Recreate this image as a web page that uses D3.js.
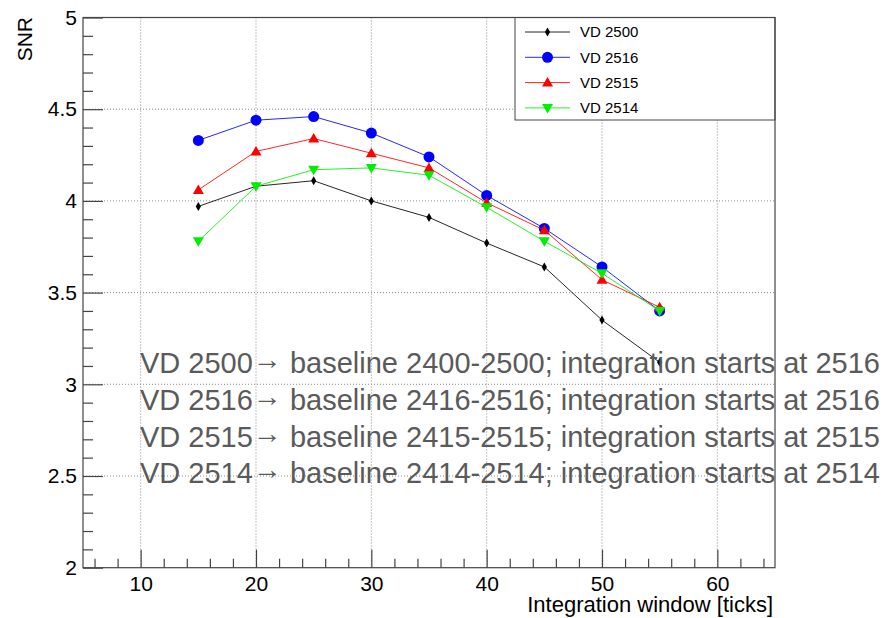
<!DOCTYPE html>
<html>
<head>
<meta charset="utf-8">
<script src="https://cdn.jsdelivr.net/npm/d3@7"></script>
<style>
  html, body { margin: 0; padding: 0; background: #fff; }
  svg { display: block; font-family: "Liberation Sans", Arial, Helvetica, sans-serif; }
</style>
</head>
<body>
<svg id="chart" width="889" height="618"></svg>
<script>
// Integration window lengths (ticks)
const windows = [15, 20, 25, 30, 35, 40, 45, 50, 55];

// SNR per configuration
const vd2500 = [3.97, 4.08, 4.11, 4.00, 3.91, 3.77, 3.64, 3.35, 3.12];
const vd2516 = [4.33, 4.44, 4.46, 4.37, 4.24, 4.03, 3.85, 3.64, 3.40];
const vd2515 = [4.06, 4.27, 4.34, 4.26, 4.18, 3.99, 3.84, 3.57, 3.42];
const vd2514 = [3.78, 4.08, 4.17, 4.18, 4.14, 3.965, 3.78, 3.605, 3.40];

const seriesNames = ["VD 2500", "VD 2516", "VD 2515", "VD 2514"];

// Axis ticks
const xMajor = [10, 20, 30, 40, 50, 60];
const xMinor = [6, 8, 12, 14, 16, 18, 22, 24, 26, 28, 32, 34, 36, 38, 42, 44, 46, 48, 52, 54, 56, 58, 62, 64];
const yMajor = [2, 2.5, 3, 3.5, 4, 4.5, 5];
const yMinor = [2.1, 2.2, 2.3, 2.4, 2.6, 2.7, 2.8, 2.9, 3.1, 3.2, 3.3, 3.4, 3.6, 3.7, 3.8, 3.9, 4.1, 4.2, 4.3, 4.4, 4.6, 4.7, 4.8, 4.9];

// Annotation lines: configuration, arrow, description
const noteHeads = ["VD 2500", "VD 2516", "VD 2515", "VD 2514"];
const noteTails = [
  " baseline 2400-2500; integration starts at 2516",
  " baseline 2416-2516; integration starts at 2516",
  " baseline 2415-2515; integration starts at 2515",
  " baseline 2414-2514; integration starts at 2514"
];

const series = [
  { name: seriesNames[0], values: vd2500, color: "#000000", marker: "diamond" },
  { name: seriesNames[1], values: vd2516, color: "#0000ff", marker: "circle" },
  { name: seriesNames[2], values: vd2515, color: "#ff0000", marker: "triangleUp" },
  { name: seriesNames[3], values: vd2514, color: "#00ee00", marker: "triangleDown" }
];

const svg = d3.select("#chart");
const frameL = 83, frameR = 775, frameT = 17.5, frameB = 567.7;

const x = d3.scaleLinear().domain([5, 65]).range([frameL, frameR]);
const y = d3.scaleLinear().domain([2, 5]).range([frameB, frameT]);

const axisColor = "#444";

// Dotted grid at major ticks
const grid = svg.append("g");
grid.selectAll("line.gx").data(xMajor).join("line")
  .attr("x1", d => x(d)).attr("x2", d => x(d))
  .attr("y1", frameT).attr("y2", frameB)
  .attr("stroke", "#8a8a8a").attr("stroke-width", 1).attr("stroke-dasharray", "1,2");
grid.selectAll("line.gy").data(yMajor.filter(d => d > 2 && d < 5)).join("line")
  .attr("x1", frameL).attr("x2", frameR)
  .attr("y1", d => y(d)).attr("y2", d => y(d))
  .attr("stroke", "#8a8a8a").attr("stroke-width", 1).attr("stroke-dasharray", "1,2");

// Bottom axis: major + minor ticks pointing inward
const gx = svg.append("g").attr("transform", `translate(0,${frameB})`);
gx.call(d3.axisBottom(x).tickValues(xMajor).tickSize(-18).tickPadding(8).tickFormat(d3.format("d")));
const gxm = svg.append("g").attr("transform", `translate(0,${frameB})`);
gxm.call(d3.axisBottom(x).tickValues(xMinor).tickSize(-9).tickFormat(""));

// Left axis
const gy = svg.append("g").attr("transform", `translate(${frameL},0)`);
gy.call(d3.axisLeft(y).tickValues(yMajor).tickSize(-20).tickPadding(6).tickFormat(d => d3.format("")(d)));
const gym = svg.append("g").attr("transform", `translate(${frameL},0)`);
gym.call(d3.axisLeft(y).tickValues(yMinor).tickSize(-10).tickFormat(""));

[gx, gxm, gy, gym].forEach(g => {
  g.select(".domain").remove();
  g.selectAll(".tick line").attr("stroke", axisColor).attr("stroke-width", 1.2);
  g.selectAll("text").attr("fill", "#000").attr("font-size", 21)
    .attr("font-family", "'Liberation Sans', Arial, sans-serif");
});

// Axis titles
svg.append("text")
  .attr("x", 773).attr("y", 612)
  .attr("text-anchor", "end").attr("font-size", 22).attr("fill", "#000")
  .text("Integration window [ticks]");
svg.append("text")
  .attr("transform", "translate(32,17) rotate(-90)")
  .attr("text-anchor", "end").attr("font-size", 21).attr("fill", "#000")
  .text("SNR");

// Marker shapes
function markerPath(kind) {
  switch (kind) {
    case "diamond": return "M0,-4.5L2.6,0L0,4.5L-2.6,0Z";
    case "circle": return d3.symbol(d3.symbolCircle, 95)();
    case "triangleUp": return "M0,-5.5L5.5,4L-5.5,4Z";
    case "triangleDown": return "M0,5.5L5.5,-4L-5.5,-4Z";
  }
}

// Series lines and markers
const line = d3.line().x(d => x(d[0])).y(d => y(d[1]));
series.forEach(s => {
  const pts = windows.map((w, i) => [w, s.values[i]]);
  svg.append("path")
    .datum(pts)
    .attr("d", line)
    .attr("fill", "none").attr("stroke", s.color).attr("stroke-width", 1).attr("stroke-opacity", 0.85);
  svg.append("g").selectAll("path").data(pts).join("path")
    .attr("transform", d => `translate(${x(d[0])},${y(d[1])})`)
    .attr("d", markerPath(s.marker))
    .attr("fill", s.color);
});

// Legend
const lg = svg.append("g");
lg.append("rect")
  .attr("x", 515).attr("y", frameT).attr("width", frameR - 515).attr("height", 102.5)
  .attr("fill", "#fff").attr("stroke", axisColor).attr("stroke-width", 1);
series.forEach((s, i) => {
  const cy = 32 + i * 25.3;
  lg.append("line").attr("x1", 525).attr("x2", 570).attr("y1", cy).attr("y2", cy)
    .attr("stroke", s.color).attr("stroke-width", 1).attr("stroke-opacity", 0.85);
  lg.append("path").attr("transform", `translate(547.5,${cy})`)
    .attr("d", markerPath(s.marker)).attr("fill", s.color);
  lg.append("text").attr("x", 580).attr("y", cy + 5.3)
    .attr("font-size", 15).attr("fill", "#000").text(s.name);
});

// Frame on top of the grid and legend
svg.append("rect")
  .attr("x", frameL).attr("y", frameT)
  .attr("width", frameR - frameL).attr("height", frameB - frameT)
  .attr("fill", "none").attr("stroke", axisColor).attr("stroke-width", 1.2);

// Annotation block
const notes = svg.append("g").selectAll("text").data(noteHeads).join("text")
  .attr("x", 140)
  .attr("y", (d, i) => 373.3 + i * 36.7)
  .attr("font-size", 29).attr("fill", "#5a5a5a");
notes.append("tspan").text(d => d);
notes.append("tspan").attr("dy", -4).text("\u2192");
notes.append("tspan").attr("dy", 4).text((d, i) => noteTails[i]);
</script>
</body>
</html>
